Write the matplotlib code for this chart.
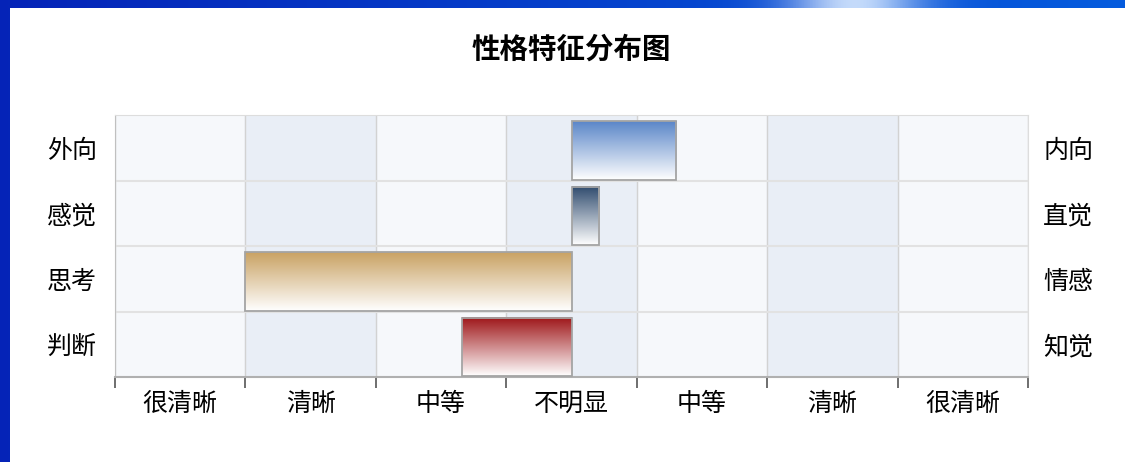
import numpy as np
import matplotlib.pyplot as plt
from matplotlib.colors import LinearSegmentedColormap
from matplotlib.patches import Rectangle

plt.rcParams['font.family'] = ['Noto Sans CJK SC', 'DejaVu Sans']

# chart data
title = '性格特征分布图'
left_labels = ['外向', '感觉', '思考', '判断']
right_labels = ['内向', '直觉', '情感', '知觉']
scale_labels = ['很清晰', '清晰', '中等', '不明显', '中等', '清晰', '很清晰']
scores = [0.80, 0.21, -2.50, -0.84]  # + = right-hand trait, - = left-hand trait
bar_colors = ['#5a86c8', '#2f4b6e', '#c9a263', '#9e1518']

W, H = 1125, 462
fig = plt.figure(figsize=(W / 100, H / 100), dpi=100)

# blue slide frame behind the chart
frame = fig.add_axes([0, 0, 1, 1], zorder=-10)
xs = np.linspace(0, 1, 400)
glow = np.exp(-((xs - 0.76) / 0.06) ** 2)
top = np.zeros((1, 400, 3))
top[0, :, 0] = 0.02 + 0.75 * glow
top[0, :, 1] = 0.14 + 0.22 * xs + 0.55 * glow
top[0, :, 2] = 0.72 + 0.15 * xs + 0.15 * glow
frame.imshow(np.clip(top, 0, 1), extent=[0, 1, 0, 1], aspect='auto')
frame.axis('off')
fig.patches.append(Rectangle((10 / W, 0), 1, 1 - 8 / H, transform=fig.transFigure,
                             facecolor='white', edgecolor='none', zorder=-5))

ax = fig.add_axes([115 / W, 1 - 377 / H, (1028 - 115) / W, (377 - 115) / H])
ax.set_facecolor('#f6f8fb')
n_cols = len(scale_labels)
half = n_cols / 2

# alternate column shading
for k in range(1, n_cols, 2):
    ax.axvspan(k - half, k + 1 - half, color='#e9eef6', zorder=0)

# bars with vertical gradient
h = 0.89
yc = np.arange(len(scores)) + 0.04
grad = np.linspace(0, 1, 256).reshape(-1, 1)
for i, (v, c) in enumerate(zip(scores, bar_colors)):
    x0, x1 = min(0, v), max(0, v)
    cmap = LinearSegmentedColormap.from_list('g%d' % i, [c, '#ffffff'])
    ax.imshow(grad, cmap=cmap, extent=(x0, x1, yc[i] + h / 2, yc[i] - h / 2),
              aspect='auto', zorder=3, interpolation='bilinear')
ax.barh(yc, scores, height=h, facecolor='none',
        edgecolor='#a4a4a4', linewidth=1.3, zorder=4)
ax.set_xlim(-half, half)
ax.set_ylim(len(left_labels) - 0.5, -0.5)

# ticks and grid
ax.set_xticks(np.arange(-half, half + 0.5, 1))
ax.set_xticklabels([])
ax.set_xticks(np.arange(-half + 0.5, half, 1), minor=True)
ax.set_xticklabels(scale_labels, minor=True, fontsize=18)
ax.tick_params(axis='x', which='major', length=8, width=1.2, color='#555555')
ax.tick_params(axis='x', which='minor', length=0, pad=10)
ax.grid(axis='x', which='major', color='#d2d2d2', linewidth=1, zorder=1)
ax.set_yticks(range(len(left_labels)))
ax.set_yticklabels(left_labels, fontsize=18)
ax.set_yticks(np.arange(0.5, len(left_labels) - 0.5, 1), minor=True)
ax.grid(axis='y', which='minor', color='#e2e2e2', linewidth=1.5, zorder=1)
ax.tick_params(axis='y', which='both', length=0, pad=13)
ax.set_axisbelow(True)
for s in ['top', 'right']:
    ax.spines[s].set_color('#dddddd')
ax.spines['left'].set_color('#c0c0c0')
ax.spines['bottom'].set_color('#b0b0b0')
ax.spines['bottom'].set_linewidth(1.5)

ax2 = ax.twinx()
ax2.set_ylim(ax.get_ylim())
ax2.set_yticks(range(len(right_labels)))
ax2.set_yticklabels(right_labels, fontsize=18)
ax2.tick_params(axis='y', length=0, pad=11)
for s in ax2.spines.values():
    s.set_visible(False)

fig.text(571 / W, 1 - 50 / H, title, ha='center', va='center',
         fontsize=20.5, fontweight='bold')

fig.savefig('out.png', dpi=100)
